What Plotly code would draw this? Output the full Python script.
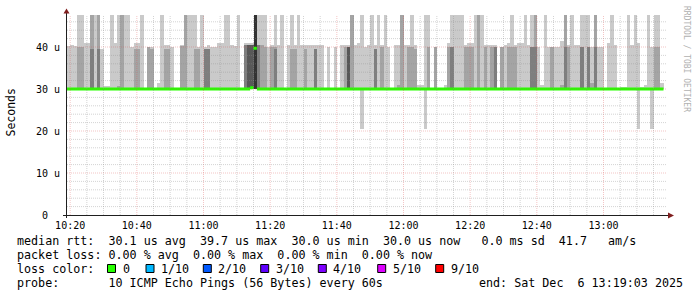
import plotly.graph_objects as go
import pandas as pd

# ---------------- data (values in microseconds) ----------------
T = 48.0  # pings above the chart's upper limit (clipped)
start_time = "2025-12-06 10:19:00"
step_minutes = 1

# top of smoke layer 1 (max ping, lightest gray)
hi1 = [40.3, 40.5, 40.3, T, T, 41, 41, T, T, T, 39.5, 30.7, 30.7, T, 41,
       T, T, T, T, 40, 41, 41, T, 30, 40, 40, 30, 31.5, T, 40.5,
       40.5, 40, 30, 30, 40.5, T, T, T, T, 40, T, 40, 40.5, 40, 40,
       41, 41, T, T, 40.5, 40.3, T, 30, 41, 41, 41, T, T, T, T,
       40, 40.5, T, 40.5, T, 30, 40.5, T, 40.5, T, 40.5, 40.5, 40.5, 40.5, 40.5,
       40.5, 40.5, 30, 40, 30, 40, 30, 40.5, 40.5, 40.5, T, 40.5, 41, T, 40,
       40.5, T, 40.5, T, 40.5, T, 40, 30, 40.5, 40.5, T, 40.5, 40.5, T, 40.5,
       31, 31, T, T, 30, 40, 30, 30, 31, 41, T, T, T, T, 40.5,
       41, 41, T, T, T, 40.5, 40.5, 40.5, 40.5, 30, 40, 40.5, 41, T, 40.5,
       41, 41, T, 40.5, T, T, 40, 31, T, 40, 40, 40, 40, 41.5, T,
       40.5, T, 40.5, 40.5, T, T, T, 40, T, 40, 40, 30, 41, T, 40.5,
       30, 30.5, 30.5, T, 40.5, T, 41, 30.5, 31, T, 40, T, T, 31.5]

# top of smoke layer 2
hi2 = [30, 30, 30, 40, 40, 30, 30, T, 30, T, 30, 30, 30, 30, 30,
       30.7, T, 30, 30, 30, 39.5, 39.5, 30, 30, 40, 39.5, 30, 30, 30, 39.5,
       39.5, 30, 30, 30, 40.3, T, 30, 30, 39.5, 39.5, 30, 39.5, 39.5, 30, 30,
       30, 30, 30, 30, 30, 30, 30, 30, 40.5, 40.5, 40.5, T, 40.5, 40.5, 40,
       30, 40, 40, 30, 30, 30, 30, 39.5, 39.5, 30, 30, 39.5, 30, 30, 39.5,
       30, 30, 30, 30, 30, 30, 30, 30, 40, 40, T, 30, 30, 30, 30,
       30, 30, 39.5, 30, 40, 30, 30, 30, 30, 31, T, 30, 40, 40, 39.5,
       30, 30, 30, 40, 30, 40, 30, 30, 30, 40, 40, 30, 30, 30, 40,
       40, 40, 30, T, 30, 40, 30, 40, 40, 30, 40, 30, 40, 40, 40,
       30, 30, 30, 30, 40, T, 30, 30, 30, 30, 40, 30, 30, 31, T,
       40, 30, 30, 30, 40, 30, 40, 31.5, T, 30, 30, 30, 30, 30, 30,
       30, 30, 30, 30, 30, 30, 30, 30, 30, 30, 30, 40, 40, 30]

# top of smoke layer 3
hi3 = [30, 30, 30, 30, 30, 30, 30, 39.5, 30, 39.5, 30, 30, 30, 30, 30,
       30, 30, 30, 30, 30, 30, 30, 30, 30, 30, 30, 30, 30, 30, 30,
       30, 30, 30, 30, 30, 30, 30, 30, 30, 30, 30, 39.5, 39.5, 30, 30,
       30, 30, 30, 30, 30, 30, 30, 30, 40.5, 40.5, 40.5, T, 40.5, 30, 30,
       30, 30, 39.5, 30, 30, 30, 30, 30, 30, 30, 30, 30, 30, 30, 39.5,
       30, 30, 30, 30, 30, 30, 30, 30, 30, 40, 30, 30, 30, 30, 30,
       30, 30, 39.5, 30, 30, 30, 30, 30, 30, 30, 30, 30, 30, 30, 30,
       30, 30, 30, 30, 30, 30, 30, 30, 30, 30, 40, 30, 30, 30, 30,
       30, 30, 30, 30, 30, 30, 30, 30, 40, 30, 30, 30, 30, 30, 30,
       30, 30, 30, 30, 40, 40, 30, 30, 30, 30, 30, 30, 30, 30, 40,
       30, 30, 30, 30, 40, 30, 40, 30, 40, 30, 30, 30, 30, 30, 30,
       30, 30, 30, 30, 30, 30, 30, 30, 30, 30, 30, 30, 30, 30]

# top of smoke layer 4
hi4 = [30, 30, 30, 30, 30, 30, 30, 30, 30, 30, 30, 30, 30, 30, 30,
       30, 30, 30, 30, 30, 30, 30, 30, 30, 30, 30, 30, 30, 30, 30,
       30, 30, 30, 30, 30, 30, 30, 30, 30, 30, 30, 30, 30, 30, 30,
       30, 30, 30, 30, 30, 30, 30, 30, 30, 40.5, 40.5, T, 30, 30, 30,
       30, 30, 30, 30, 30, 30, 30, 30, 30, 30, 30, 30, 30, 30, 30,
       30, 30, 30, 30, 30, 30, 30, 30, 30, 40, 30, 30, 30, 30, 30,
       30, 30, 30, 30, 30, 30, 30, 30, 30, 30, 30, 30, 30, 30, 30,
       30, 30, 30, 30, 30, 30, 30, 30, 30, 30, 30, 30, 30, 30, 30,
       30, 30, 30, 30, 30, 30, 30, 30, 30, 30, 30, 30, 30, 30, 30,
       30, 30, 30, 30, 30, 30, 30, 30, 30, 30, 30, 30, 30, 30, 30,
       30, 30, 30, 30, 30, 30, 30, 30, 30, 30, 30, 30, 30, 30, 30,
       30, 30, 30, 30, 30, 30, 30, 30, 30, 30, 30, 30, 30, 30]

# top of smoke layer 5 (darkest)
hi5 = [30, 30, 30, 30, 30, 30, 30, 30, 30, 30, 30, 30, 30, 30, 30,
       30, 30, 30, 30, 30, 30, 30, 30, 30, 30, 30, 30, 30, 30, 30,
       30, 30, 30, 30, 30, 30, 30, 30, 30, 30, 30, 30, 30, 30, 30,
       30, 30, 30, 30, 30, 30, 30, 30, 30, 30, 30, T, 30, 30, 30,
       30, 30, 30, 30, 30, 30, 30, 30, 30, 30, 30, 30, 30, 30, 30,
       30, 30, 30, 30, 30, 30, 30, 30, 30, 30, 30, 30, 30, 30, 30,
       30, 30, 30, 30, 30, 30, 30, 30, 30, 30, 30, 30, 30, 30, 30,
       30, 30, 30, 30, 30, 30, 30, 30, 30, 30, 30, 30, 30, 30, 30,
       30, 30, 30, 30, 30, 30, 30, 30, 30, 30, 30, 30, 30, 30, 30,
       30, 30, 30, 30, 30, 30, 30, 30, 30, 30, 30, 30, 30, 30, 30,
       30, 30, 30, 30, 30, 30, 30, 30, 30, 30, 30, 30, 30, 30, 30,
       30, 30, 30, 30, 30, 30, 30, 30, 30, 30, 30, 30, 30, 30]

# lowest ping of each step
ping_min = [
    29.9, 29.9, 29.9, 29.9, 29.9, 29.9, 29.9, 29.9, 29.9, 29.9, 29.9, 29.9, 29.9, 29.9, 29.9,
    29.9, 29.9, 29.9, 29.9, 29.9, 29.9, 29.9, 29.9, 29.9, 29.9, 29.9, 29.9, 29.9, 29.9, 29.9,
    29.9, 29.9, 29.9, 29.9, 29.9, 29.9, 29.9, 29.9, 29.9, 29.9, 29.9, 29.9, 29.9, 29.9, 29.9,
    29.9, 29.9, 29.9, 29.9, 29.9, 29.9, 29.9, 29.9, 29.9, 29.9, 29.9, 29.9, 29.9, 29.9, 29.9,
    29.9, 29.9, 29.9, 29.9, 29.9, 29.9, 29.9, 29.9, 29.9, 29.9, 29.9, 29.9, 29.9, 29.9, 29.9,
    29.9, 29.9, 29.9, 29.9, 29.9, 29.9, 29.9, 29.9, 29.9, 29.9, 29.9, 29.9, 29.9, 20.5, 29.9,
    29.9, 29.9, 29.9, 29.9, 29.9, 29.9, 29.9, 29.9, 29.9, 29.9, 29.9, 29.9, 29.9, 29.9, 29.9,
    29.9, 29.9, 20.5, 29.9, 29.9, 29.9, 29.9, 29.9, 29.9, 29.9, 29.9, 29.9, 29.9, 29.9, 29.9,
    29.9, 29.9, 29.9, 29.9, 29.9, 29.9, 29.9, 29.9, 29.9, 29.9, 29.9, 29.9, 29.9, 29.9, 29.9,
    29.9, 29.9, 29.9, 29.9, 29.9, 29.9, 29.9, 29.9, 29.9, 29.9, 29.9, 29.9, 29.9, 29.9, 29.9,
    29.9, 29.9, 29.9, 29.9, 29.9, 29.9, 29.9, 29.9, 29.9, 29.9, 29.9, 29.9, 29.9, 29.9, 29.9,
    29.9, 29.9, 29.9, 29.9, 29.9, 29.9, 20.5, 29.9, 29.9, 29.9, 20.5, 29.9, 29.9, 29.9]

# median rtt per step
median = [
    30.0, 30.0, 30.0, 30.0, 30.0, 30.0, 30.0, 30.0, 30.0, 30.0, 30.0, 30.0, 30.0, 30.0, 30.0,
    30.0, 30.0, 30.0, 30.0, 30.0, 30.0, 30.0, 30.0, 30.0, 30.0, 30.0, 30.0, 30.0, 30.0, 30.0,
    30.0, 30.0, 30.0, 30.0, 30.0, 30.0, 30.0, 30.0, 30.0, 30.0, 30.0, 30.0, 30.0, 30.0, 30.0,
    30.0, 30.0, 30.0, 30.0, 30.0, 30.0, 30.0, 30.0, 30.0, 30.0, 30.3, 39.7, 30.0, 30.0, 30.0,
    30.0, 30.0, 30.0, 30.0, 30.0, 30.0, 30.0, 30.0, 30.0, 30.0, 30.0, 30.0, 30.0, 30.0, 30.0,
    30.0, 30.0, 30.0, 30.0, 30.0, 30.0, 30.0, 30.0, 30.0, 30.0, 30.0, 30.0, 30.0, 30.0, 30.0,
    30.0, 30.0, 30.0, 30.0, 30.0, 30.0, 30.0, 30.0, 30.0, 30.0, 30.0, 30.0, 30.0, 30.0, 30.0,
    30.0, 30.0, 30.0, 30.0, 30.0, 30.0, 30.0, 30.0, 30.0, 30.0, 30.0, 30.0, 30.0, 30.0, 30.0,
    30.0, 30.0, 30.0, 30.0, 30.0, 30.0, 30.0, 30.0, 30.0, 30.0, 30.0, 30.0, 30.0, 30.0, 30.0,
    30.0, 30.0, 30.0, 30.0, 30.0, 30.0, 30.0, 30.0, 30.0, 30.0, 30.0, 30.0, 30.0, 30.0, 30.0,
    30.0, 30.0, 30.0, 30.0, 30.0, 30.0, 30.0, 30.0, 30.0, 30.0, 30.0, 30.0, 30.0, 30.0, 30.0,
    30.0, 30.0, 30.0, 30.0, 30.0, 30.0, 30.0, 30.0, 30.0, 30.0, 30.0, 30.0, 30.0, 30.0]

y_tick_vals = [0, 10, 20, 30, 40]
y_tick_text = ["0\u00a0\u00a0", "10 u", "20 u", "30 u", "40 u"]
x_tick_labels = ["10:20", "10:40", "11:00", "11:20", "11:40", "12:00", "12:20", "12:40", "13:00"]

loss_labels = ["0", "1/10", "2/10", "3/10", "4/10", "5/10", "9/10"]
loss_colors = ["#26ff00", "#00b8ff", "#0059ff", "#5e00ff", "#7e00ff", "#dd00ff", "#ff0000"]

legend_lines = [
    "median rtt:  30.1 us avg  39.7 us max  30.0 us min  30.0 us now   0.0 ms sd  41.7   am/s",
    "packet loss: 0.00 % avg  0.00 % max  0.00 % min  0.00 % now",
]
probe_text = "probe:       10 ICMP Echo Pings (56 Bytes) every 60s"
end_text = "end: Sat Dec  6 13:19:03 2025"

smoke_colors = ["#cacaca", "#a4a4a4", "#7e7e7e", "#585858", "#323232"]

# ---------------- figure ----------------
n = len(hi1)
t0 = pd.Timestamp(start_time)
step = pd.Timedelta(minutes=step_minutes)
starts = [t0 + step * k for k in range(n)]
centers = [s + step / 2 for s in starts]

fig = go.Figure()
layers = [hi1, hi2, hi3, hi4, hi5]
for i, tops in enumerate(layers):
    bases = ping_min if i == 0 else [29.9] * n
    heights = [(tp - b) if tp > 30.05 else None for tp, b in zip(tops, bases)]
    fig.add_trace(go.Bar(
        x=centers, y=heights, base=bases, width=60000,
        marker=dict(color=smoke_colors[i], line=dict(width=0)),
        hoverinfo="skip",
    ))

# median line, horizontal segments per step
mx, my = [], []
for k in range(n):
    if k > 0 and median[k] != median[k - 1]:
        mx.append(None)
        my.append(None)
    mx += [starts[k], starts[k] + step]
    my += [median[k], median[k]]
fig.add_trace(go.Scatter(x=mx, y=my, mode="lines",
                         line=dict(color=loss_colors[0], width=3),
                         hoverinfo="skip", connectgaps=False))

PW, PH, L, TOP = 600, 200, 67, 15


def PX(x):
    return (x - L) / PW


def PY(y):
    return (TOP + PH - y) / PH


mono = "DejaVu Sans Mono"
x_start = pd.Timestamp("2025-12-06 10:19:03")
x_end = pd.Timestamp("2025-12-06 13:19:03")
tick_times = [pd.Timestamp("2025-12-06 " + s) for s in x_tick_labels]

major_grid = "rgba(222,79,79,0.33)"
minor_grid = "rgba(143,143,143,0.38)"

shapes = []
# grid (drawn above the smoke, as rrdtool does)
g = pd.Timestamp("2025-12-06 10:20")
while g < x_end:
    major = g.minute % 20 == 0
    shapes.append(dict(type="line", xref="x", yref="paper", x0=g, x1=g, y0=0, y1=1,
                       layer="above",
                       line=dict(color=major_grid if major else minor_grid,
                                 width=1, dash="1px,1px")))
    g += pd.Timedelta(minutes=5)
for v in range(2, 48, 2):
    major = v % 10 == 0
    shapes.append(dict(type="line", xref="paper", yref="y", x0=0, x1=1, y0=v, y1=v,
                       layer="above",
                       line=dict(color=major_grid if major else minor_grid,
                                 width=1, dash="1px,1px")))

# axis lines and arrows
axis_col = "#1f1f1f"
arrow_col = "#801f1f"
shapes.append(dict(type="line", xref="paper", yref="paper", x0=PX(63), x1=PX(669),
                   y0=PY(215.5), y1=PY(215.5), line=dict(color=axis_col, width=1), layer="above"))
shapes.append(dict(type="line", xref="paper", yref="paper", x0=PX(66.5), x1=PX(66.5),
                   y0=PY(218), y1=PY(12), line=dict(color=axis_col, width=1), layer="above"))
shapes.append(dict(type="path", xref="paper", yref="paper", layer="above",
                   path=f"M {PX(668)},{PY(212.5)} L {PX(674)},{PY(215.5)} L {PX(668)},{PY(218.5)} Z",
                   fillcolor=arrow_col, line=dict(width=0)))
shapes.append(dict(type="path", xref="paper", yref="paper", layer="above",
                   path=f"M {PX(63.5)},{PY(13.5)} L {PX(66.5)},{PY(8.5)} L {PX(69.5)},{PY(13.5)} Z",
                   fillcolor=arrow_col, line=dict(width=0)))

# legend colour boxes
box_x = [107.5, 146, 203.3, 260.7, 318.3, 377.7, 435.7]
for bx, col in zip(box_x, loss_colors):
    shapes.append(dict(type="rect", xref="paper", yref="paper",
                       x0=PX(bx), x1=PX(bx + 8), y0=PY(272.5), y1=PY(264.5),
                       fillcolor=col, line=dict(color="#000000", width=1)))

annotations = []
fs = 11.7
row_y = [241, 255, 269, 283]
for line, ry in zip(legend_lines, row_y[:2]):
    annotations.append(dict(text=line, xref="paper", yref="paper", x=PX(16), y=PY(ry),
                            xanchor="left", yanchor="middle", showarrow=False,
                            font=dict(family=mono, size=fs, color="#000000"), borderpad=0))
annotations.append(dict(text="loss color:", xref="paper", yref="paper", x=PX(16), y=PY(row_y[2]),
                        xanchor="left", yanchor="middle", showarrow=False,
                        font=dict(family=mono, size=fs, color="#000000"), borderpad=0))
for bx, lab in zip(box_x, loss_labels):
    annotations.append(dict(text=lab, xref="paper", yref="paper", x=PX(bx + 14), y=PY(row_y[2]),
                            xanchor="left", yanchor="middle", showarrow=False,
                            font=dict(family=mono, size=fs, color="#000000"), borderpad=0))
annotations.append(dict(text=probe_text, xref="paper", yref="paper", x=PX(16), y=PY(row_y[3]),
                        xanchor="left", yanchor="middle", showarrow=False,
                        font=dict(family=mono, size=fs, color="#000000"), borderpad=0))
annotations.append(dict(text=end_text, xref="paper", yref="paper", x=PX(478), y=PY(row_y[3]),
                        xanchor="left", yanchor="middle", showarrow=False,
                        font=dict(family=mono, size=fs, color="#000000"), borderpad=0))
# y axis title
annotations.append(dict(text="Seconds", xref="paper", yref="paper", x=PX(10.5), y=PY(113),
                        xanchor="center", yanchor="middle", showarrow=False, textangle=-90,
                        font=dict(family=mono, size=11.5, color="#000000")))
# watermark
annotations.append(dict(text="RRDTOOL / TOBI OETIKER", xref="paper", yref="paper", x=PX(686),
                        y=PY(59), xanchor="center", yanchor="middle", showarrow=False, textangle=90,
                        font=dict(family=mono, size=8, color="#b0b0b0")))

fig.update_layout(
    width=697, height=297,
    margin=dict(l=L, r=697 - L - PW, t=TOP, b=297 - TOP - PH, pad=0),
    paper_bgcolor="white", plot_bgcolor="white",
    showlegend=False, barmode="overlay", bargap=0,
    shapes=shapes, annotations=annotations,
    xaxis=dict(type="date", range=[x_start, x_end], tickvals=tick_times, ticktext=x_tick_labels,
               showgrid=False, zeroline=False, showline=False, ticks="",
               tickfont=dict(family=mono, size=10, color="#000000"), ticklabelstandoff=3),
    yaxis=dict(range=[0, 200 / 4.2], tickvals=y_tick_vals, ticktext=y_tick_text,
               showgrid=False, zeroline=False, showline=False, ticks="",
               tickfont=dict(family=mono, size=10, color="#000000"), ticklabelstandoff=6),
)

fig.write_html("out.html")
